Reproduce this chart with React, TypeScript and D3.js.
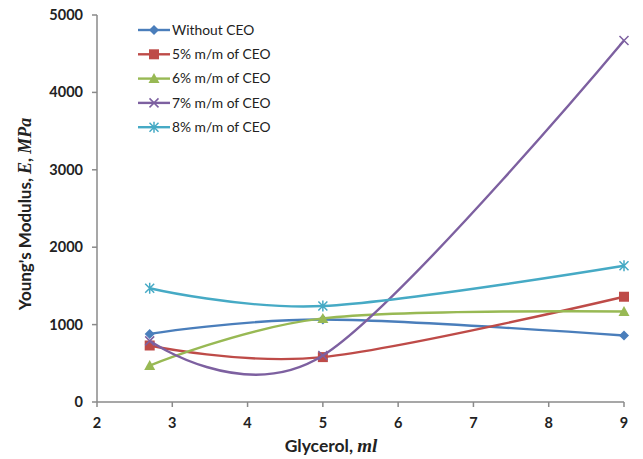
import React from "react";
import * as d3 from "d3";

const xValues = [2.7, 5, 9];
const seriesNames = ["Without CEO", "5% m/m of CEO", "6% m/m of CEO", "7% m/m of CEO", "8% m/m of CEO"];
const withoutCEO = [880, 1065, 860];
const ceo5 = [730, 580, 1360];
const ceo6 = [470, 1080, 1170];
const ceo7 = [790, 600, 4670];
const ceo8 = [1470, 1240, 1760];
const xTicks = [2, 3, 4, 5, 6, 7, 8, 9];
const yTicks = [0, 1000, 2000, 3000, 4000, 5000];

const colors = ["#4A7EBB", "#BE4B48", "#98B954", "#7D60A0", "#46AAC5"];
const markers = ["diamond", "square", "triangle", "x", "star"];

const W = 643, H = 459;
const x = d3.scaleLinear().domain([2, 9]).range([97, 624]);
const y = d3.scaleLinear().domain([0, 5000]).range([402, 15]);

function Marker({ type, cx, cy, color }: { type: string; cx: number; cy: number; color: string }) {
  if (type === "diamond") {
    const s = 5;
    return <path d={`M${cx},${cy - s}L${cx + s},${cy}L${cx},${cy + s}L${cx - s},${cy}Z`} fill={color} />;
  }
  if (type === "square") {
    return <rect x={cx - 5} y={cy - 5} width={10} height={10} fill={color} />;
  }
  if (type === "triangle") {
    return <path d={`M${cx},${cy - 5.5}L${cx + 5.5},${cy + 4.5}L${cx - 5.5},${cy + 4.5}Z`} fill={color} />;
  }
  if (type === "x") {
    const s = 4.5;
    return (
      <path d={`M${cx - s},${cy - s}L${cx + s},${cy + s}M${cx - s},${cy + s}L${cx + s},${cy - s}`} stroke={color} strokeWidth={1.5} />
    );
  }
  const s = 4.5;
  return (
    <path
      d={`M${cx - s},${cy - s}L${cx + s},${cy + s}M${cx - s},${cy + s}L${cx + s},${cy - s}M${cx},${cy - s - 1}L${cx},${cy + s + 1}`}
      stroke={color}
      strokeWidth={1.5}
    />
  );
}

export default function App() {
  const data = [withoutCEO, ceo5, ceo6, ceo7, ceo8];
  const line = d3
    .line<number>()
    .x((_, i) => x(xValues[i]))
    .y((d) => y(d))
    .curve(d3.curveCardinal.tension(0));
  const font = "Lato, 'Open Sans', sans-serif";
  return (
    <svg width={W} height={H} style={{ position: "absolute", left: 0, top: 0, background: "#fff" }}>
      {/* axes */}
      <line x1={97} x2={97} y1={15} y2={402} stroke="#8a8a8a" strokeWidth={1.5} />
      <line x1={97} x2={624} y1={402} y2={402} stroke="#8a8a8a" strokeWidth={1.5} />
      {yTicks.map((t) => (
        <g key={t}>
          <line x1={92} x2={97} y1={y(t)} y2={y(t)} stroke="#8a8a8a" strokeWidth={1.5} />
          <text x={83} y={y(t)} dy="0.35em" textAnchor="end" fontFamily={font} fontWeight="bold" fontSize={14.5} fill="#222">
            {t}
          </text>
        </g>
      ))}
      {xTicks.map((t) => (
        <g key={t}>
          <line x1={x(t)} x2={x(t)} y1={402} y2={407} stroke="#8a8a8a" strokeWidth={1.5} />
          <text x={x(t)} y={423} dy="0.35em" textAnchor="middle" fontFamily={font} fontWeight="bold" fontSize={14.5} fill="#222">
            {t}
          </text>
        </g>
      ))}
      {/* axis titles */}
      <text x={331} y={446} dy="0.35em" textAnchor="middle" fontFamily={font} fontWeight="bold" fontSize={17.5} fill="#222">
        Glycerol,{" "}
        <tspan fontFamily="'Liberation Serif', serif" fontStyle="italic" fontSize={19}>
          ml
        </tspan>
      </text>
      <text
        transform={`translate(25,214) rotate(-90)`}
        dy="0.35em"
        textAnchor="middle"
        fontFamily={font}
        fontWeight="bold"
        fontSize={17}
        fill="#222"
      >
        Young's Modulus,{" "}
        <tspan fontFamily="'Liberation Serif', serif" fontStyle="italic" fontSize={18}>
          E
        </tspan>
        ,{" "}
        <tspan fontFamily="'Liberation Serif', serif" fontStyle="italic" fontSize={18}>
          MPa
        </tspan>
      </text>
      {/* series */}
      {data.map((s, i) => (
        <g key={i}>
          <path d={line(s) || ""} fill="none" stroke={colors[i]} strokeWidth={2.4} />
          {s.map((v, j) => (
            <Marker key={j} type={markers[i]} cx={x(xValues[j])} cy={y(v)} color={colors[i]} />
          ))}
        </g>
      ))}
      {/* legend */}
      {seriesNames.map((n, i) => {
        const ly = 30 + i * 24.3;
        return (
          <g key={n}>
            <line x1={138} x2={170} y1={ly} y2={ly} stroke={colors[i]} strokeWidth={2.4} />
            <Marker type={markers[i]} cx={154} cy={ly} color={colors[i]} />
            <text x={172} y={ly} dy="0.35em" fontFamily={font} fontSize={13.8} fill="#222">
              {n}
            </text>
          </g>
        );
      })}
    </svg>
  );
}
